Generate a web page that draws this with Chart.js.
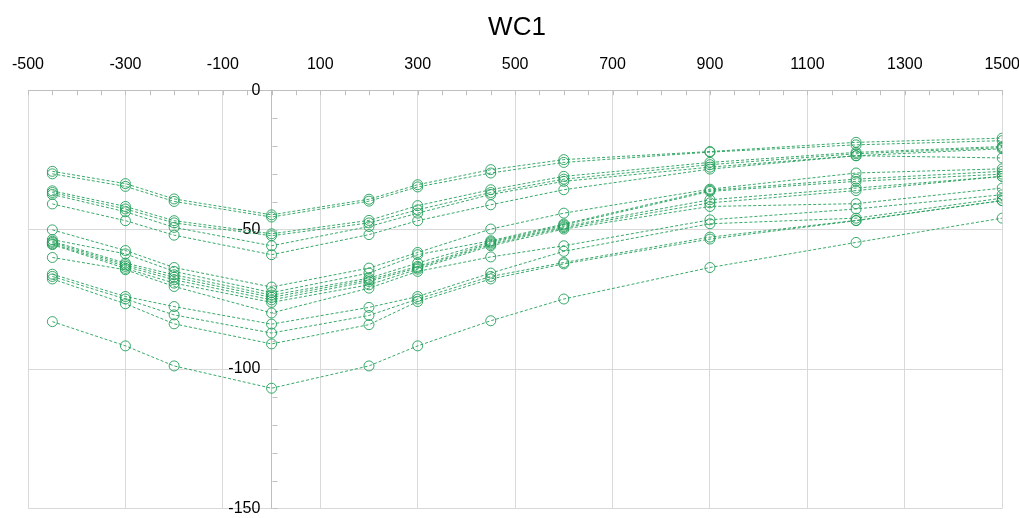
<!DOCTYPE html>
<html>
<head>
<meta charset="utf-8">
<title>WC1</title>
<script src="https://cdn.jsdelivr.net/npm/chart.js@4.4.1/dist/chart.umd.min.js"></script>
<style>
  html, body { margin: 0; padding: 0; background: #fff; overflow: hidden; }
  #wrap { width: 1024px; height: 521px; position: relative; }
</style>
</head>
<body>
<div id="wrap"><canvas id="chart"></canvas></div>
<script>
// station positions along the x axis
const xValues = [-450, -300, -200, 0, 200, 300, 450, 600, 900, 1200, 1500];
const xTicks = [-500, -300, -100, 100, 300, 500, 700, 900, 1100, 1300, 1500];
const yTicks = [0, -50, -100, -150];

// one line per reading
const wc01 = [-29.1, -33.5, -39.0, -44.7, -39.1, -33.9, -28.5, -24.9, -22.0, -18.7, -17.2];
const wc02 = [-30.0, -34.5, -39.9, -45.5, -39.8, -34.7, -29.7, -25.9, -22.2, -19.6, -18.1];
const wc03 = [-36.1, -41.7, -46.8, -51.5, -46.7, -41.4, -35.7, -30.9, -25.9, -22.3, -20.2];
const wc04 = [-36.7, -42.6, -47.6, -52.2, -47.6, -42.9, -36.7, -31.9, -26.7, -22.8, -20.6];
const wc05 = [-37.4, -43.6, -49.2, -55.8, -48.9, -44.1, -37.4, -32.7, -27.6, -23.5, -21.0];
const wc06 = [-40.8, -46.8, -52.0, -59.0, -51.8, -46.8, -41.1, -35.7, -28.3, -23.5, -24.3];
const wc07 = [-50.1, -57.5, -63.6, -70.6, -63.8, -58.2, -49.8, -44.1, -35.5, -29.7, -28.2];
const wc08 = [-53.6, -58.7, -65.0, -72.6, -65.6, -59.0, -54.0, -48.0, -35.9, -31.9, -29.1];
const wc09 = [-54.2, -62.0, -66.2, -73.5, -67.4, -62.0, -54.4, -48.4, -36.3, -32.7, -30.1];
const wc10 = [-54.6, -62.6, -67.1, -74.3, -68.0, -63.2, -54.8, -48.9, -39.3, -35.1, -30.9];
const wc11 = [-55.1, -63.2, -68.0, -75.2, -68.6, -63.7, -55.3, -49.3, -40.4, -36.0, -30.9];
const wc12 = [-55.4, -63.9, -69.2, -76.1, -69.8, -64.2, -55.8, -49.8, -41.7, -40.7, -35.1];
const wc13 = [-60.0, -64.4, -70.4, -79.9, -71.0, -65.0, -59.8, -55.8, -46.5, -42.6, -37.5];
const wc14 = [-66.0, -74.0, -77.6, -83.9, -77.9, -74.0, -65.6, -57.8, -47.9, -45.9, -38.7];
const wc15 = [-66.8, -74.9, -80.6, -87.1, -80.8, -74.9, -66.8, -61.8, -52.7, -46.7, -39.6];
const wc16 = [-67.7, -76.6, -83.8, -91.0, -84.1, -75.8, -67.7, -62.3, -53.4, -46.8, -39.6];
const wc17 = [-83.0, -91.7, -98.9, -106.9, -98.9, -91.7, -82.7, -74.9, -63.6, -54.6, -45.9];

const allSeries = [wc01, wc02, wc03, wc04, wc05, wc06, wc07, wc08, wc09,
                   wc10, wc11, wc12, wc13, wc14, wc15, wc16, wc17];

const green = 'rgba(34, 160, 90, 0.9)';
const fontFamily = "'Liberation Sans', sans-serif";

const datasets = allSeries.map((vals, i) => ({
  label: 'WC1-' + (i + 1),
  data: vals.map((v, j) => ({ x: xValues[j], y: v })),
  borderColor: green,
  borderWidth: 1,
  borderDash: [3, 2],
  pointStyle: 'circle',
  pointRadius: 5,
  pointBorderColor: green,
  pointBackgroundColor: 'rgba(255,255,255,0)',
  pointBorderWidth: 1,
  tension: 0,
  fill: false
}));

// small minor tick marks like the spreadsheet axes
const minorTicks = {
  id: 'minorTicks',
  afterDraw(chart) {
    const c = chart.ctx;
    const xs = chart.scales.x;
    const ys = chart.scales.y;
    const top = chart.chartArea.top;
    const x0 = Math.round(xs.getPixelForValue(0)) + 0.5;
    c.save();
    c.strokeStyle = '#bfbfbf';
    c.lineWidth = 1;
    c.beginPath();
    for (let v = -500; v <= 1500; v += 50) {
      const px = Math.round(xs.getPixelForValue(v)) + 0.5;
      c.moveTo(px, top);
      c.lineTo(px, top + 5);
    }
    for (let v = -150; v <= 0; v += 10) {
      const py = Math.round(ys.getPixelForValue(v)) + 0.5;
      c.moveTo(x0, py);
      c.lineTo(x0 + 5, py);
    }
    c.stroke();
    c.restore();
  }
};

new Chart(document.getElementById('chart').getContext('2d'), {
  type: 'line',
  data: { datasets: datasets },
  options: {
    responsive: true,
    maintainAspectRatio: false,
    animation: false,
    layout: { padding: { left: 28, right: 18, top: 0, bottom: 2 } },
    plugins: {
      legend: { display: false },
      tooltip: { enabled: false },
      title: {
        display: true,
        text: 'WC1',
        color: '#000',
        font: { family: fontFamily, size: 26, weight: 'normal', lineHeight: 1 },
        padding: { top: 15, bottom: 10 }
      }
    },
    scales: {
      x: {
        type: 'linear',
        position: 'top',
        min: -500,
        max: 1500,
        afterBuildTicks: s => { s.ticks = xTicks.map(v => ({ value: v })); },
        ticks: {
          color: '#000',
          padding: 4,
          maxRotation: 0,
          font: { family: fontFamily, size: 16 },
          callback: v => String(v)
        },
        grid: { color: '#d9d9d9', drawTicks: true, tickLength: 12, tickColor: 'rgba(0,0,0,0)' },
        border: { display: true, color: '#bfbfbf' }
      },
      y: {
        type: 'linear',
        position: { x: 0 },
        min: -150,
        max: 0,
        afterBuildTicks: s => { s.ticks = yTicks.map(v => ({ value: v })); },
        ticks: {
          color: '#000',
          font: { family: fontFamily, size: 16 },
          // labels sit right-aligned on the axis; a wide space keeps a gap
          callback: v => String(v) + '\u2002\u2009'
        },
        grid: { color: '#d9d9d9', drawTicks: false },
        border: { display: true, color: '#bfbfbf' }
      }
    }
  },
  plugins: [minorTicks]
});
</script>
</body>
</html>
